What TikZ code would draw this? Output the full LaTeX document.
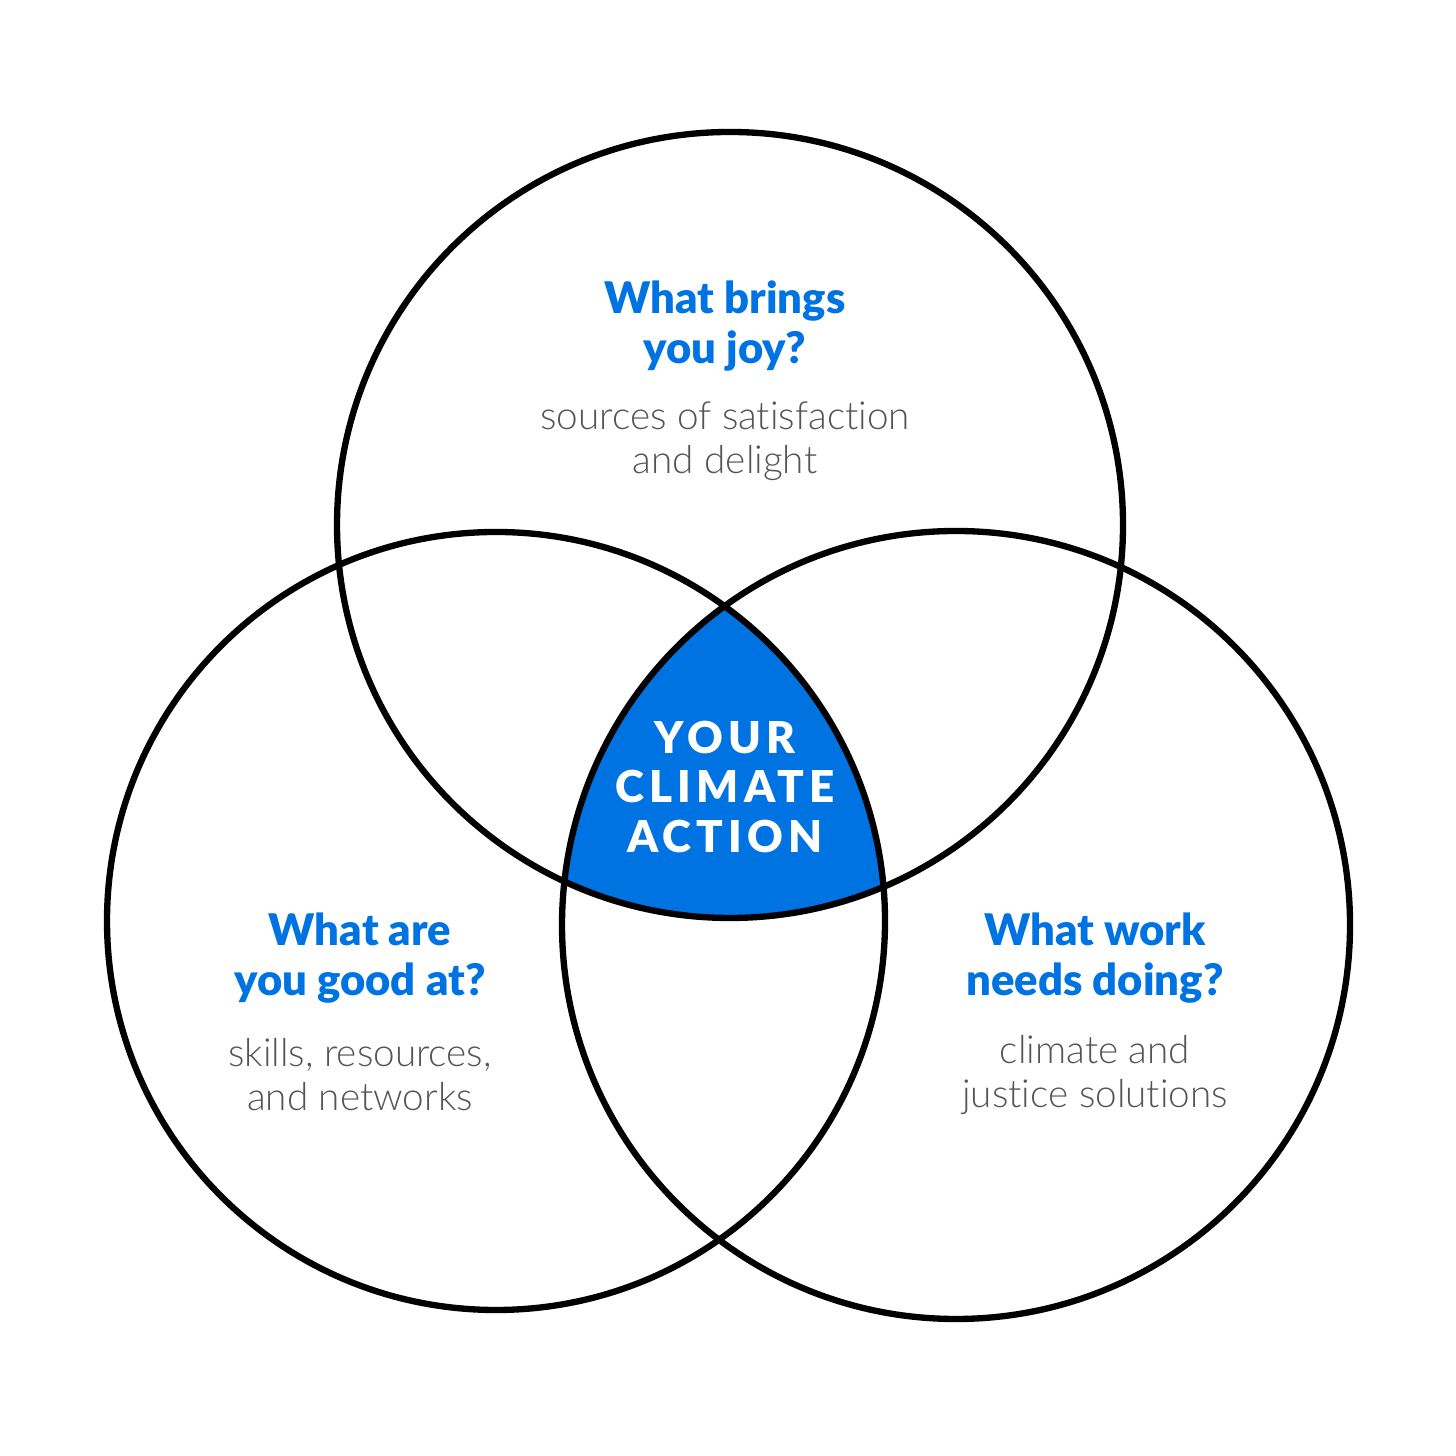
\documentclass[tikz,border=0pt]{standalone}
\usepackage{fontspec}
\setmainfont{Lato}
\newfontfamily\headfont{Lato Black}
\newfontfamily\thinfont[Ligatures=NoCommon]{Lato Light}
\definecolor{actionblue}{HTML}{0073E3}
\definecolor{notegray}{HTML}{555555}

\begin{document}
\begin{tikzpicture}[
    ring/.style={line width=1.8pt, black},
    question/.style={align=center, text=actionblue, font=\headfont\fontsize{12.4}{14.2}\selectfont},
    note/.style={align=center, text=notegray, font=\thinfont\fontsize{11}{12.5}\selectfont},
    action/.style={align=center, text=white, font=\headfont\addfontfeature{LetterSpace=12}\fontsize{12.5}{14.2}\selectfont}]
  \useasboundingbox (0,0) rectangle (14.56,14.56);
  % circle centres
  \coordinate (joy) at (7.30,9.31);
  \coordinate (good) at (4.96,5.35);
  \coordinate (work) at (9.56,5.31);
  % shared region
  \begin{scope}
    \clip (joy) circle (3.93);
    \clip (good) circle (3.89);
    \fill[actionblue] (work) circle (3.94);
  \end{scope}
  \draw[ring] (joy) circle (3.93);
  \draw[ring] (good) circle (3.89);
  \draw[ring] (work) circle (3.94);
  % labels
  \node[question] (joyq) at (7.25,11.30) {What brings\\you joy?};
  \node[note] (joyn) at (7.25,10.15) {sources of satisfaction\\and delight};
  \node[question] (goodq) at (3.60,4.98) {What are\\you good at?};
  \node[note] (goodn) at (3.60,3.81) {skills, resources,\\and networks};
  \node[question] (workq) at (10.95,4.98) {What work\\needs doing?};
  \node[note] (workn) at (10.95,3.81) {climate and\\justice solutions};
  \node[action] (act) at (7.25,6.69) {YOUR\\CLIMATE\\ACTION};
\end{tikzpicture}
\end{document}
